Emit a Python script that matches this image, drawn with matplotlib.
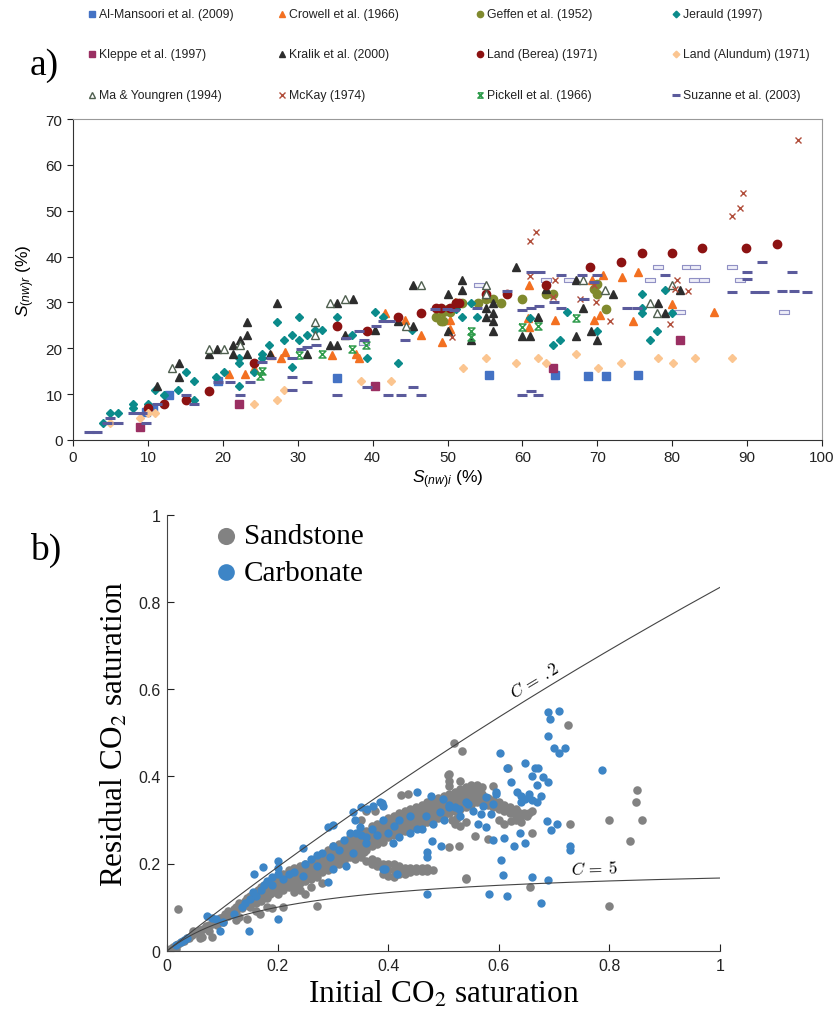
import numpy as np
import matplotlib.pyplot as plt
from matplotlib.path import Path

plt.rcParams['font.family'] = ['Liberation Sans', 'DejaVu Sans']
plt.rcParams['mathtext.fontset'] = 'custom'
plt.rcParams['mathtext.it'] = 'Liberation Sans:italic'
plt.rcParams['mathtext.rm'] = 'Liberation Sans'

# ---- (a) residual vs initial non-wetting saturation, literature data (%) ----
almansoori_x = [9.7, 10.7, 12.8, 19.4, 35.3, 55.6, 64.4, 68.8, 71.2, 75.4]
almansoori_y = [6.2, 6.8, 9.8, 12.8, 13.6, 14.1, 14.1, 13.9, 13.9, 14.1]

crowell_x = [20.8, 22.9, 24.2, 26.5, 27.8, 28.3, 34.6, 37.8, 38.2, 41.6, 44.3, 46.5, 49.3, 50.4,
             50.4, 51.0, 60.8, 60.9, 60.9, 64.4, 69.3, 69.6, 70.4, 70.7, 73.3, 74.7, 75.4, 80.0, 85.6]
crowell_y = [14.5, 14.3, 15.6, 18.6, 17.8, 19.2, 18.5, 18.8, 17.9, 27.8, 26.1, 23.0, 21.4, 26.1,
             24.3, 30.2, 26.6, 24.6, 33.7, 26.1, 34.8, 26.1, 27.2, 36.0, 35.5, 25.9, 36.7, 29.7, 28.0]

geffen_x = [48.5, 49.1, 49.4, 49.4, 50.1, 50.4, 51.1, 52.0, 54.1, 55.1, 56.1, 57.1, 60.0, 63.1,
            64.1, 69.6, 70.0, 70.0, 71.1]
geffen_y = [26.8, 25.9, 27.9, 25.9, 28.6, 27.9, 29.9, 29.9, 29.9, 30.8, 30.8, 29.9, 30.7, 31.9,
            31.8, 33.0, 34.1, 31.9, 28.6]

jerauld_x = [4.0, 5.0, 6.0, 8.0, 8.0, 10.0, 11.0, 12.1, 14.0, 15.1, 16.1, 16.1, 19.1, 20.1, 22.2,
             22.2, 22.2, 24.2, 25.2, 25.2, 26.2, 27.2, 28.2, 29.2, 29.2, 30.2, 30.2, 31.3, 32.3,
             33.3, 35.3, 39.3, 40.3, 41.4, 43.4, 45.3, 51.1, 52.0, 53.1, 54.0, 61.0, 64.1, 65.0,
             66.0, 70.0, 76.0, 76.0, 76.0, 77.0, 78.0, 79.0, 80.0, 37.3]
jerauld_y = [3.8, 5.8, 5.8, 7.8, 6.9, 7.8, 10.9, 9.9, 10.9, 14.9, 12.8, 8.7, 13.8, 14.9, 11.8,
             17.9, 16.9, 14.9, 18.8, 17.8, 20.8, 25.7, 21.9, 22.8, 15.9, 26.8, 21.9, 22.8, 23.9,
             23.9, 26.8, 17.9, 27.9, 26.8, 16.8, 23.9, 28.6, 26.8, 29.9, 26.8, 26.6, 20.8, 21.9,
             27.9, 23.7, 31.9, 28.8, 27.8, 21.9, 23.7, 32.8, 27.8, 22.8]

kleppe_x = [9.0, 22.2, 40.3, 64.1, 81.0]
kleppe_y = [2.9, 7.8, 11.8, 15.8, 21.9]

kralik_x = [11.2, 14.1, 14.1, 18.2, 19.2, 21.3, 21.3, 22.3, 23.2, 23.2, 23.2, 26.3, 27.3, 31.3,
            34.3, 35.3, 35.3, 36.3, 37.4, 40.3, 43.4, 45.4, 45.4, 50.0, 50.0, 52.0, 52.0, 53.1,
            55.1, 55.1, 56.1, 56.1, 56.1, 56.1, 59.1, 60.0, 61.0, 62.1, 63.1, 67.1, 67.1, 68.1,
            69.1, 70.0, 72.1, 78.1, 79.0, 81.0]
kralik_y = [11.7, 16.7, 13.8, 18.8, 19.9, 20.8, 18.8, 21.7, 25.7, 22.8, 18.8, 18.8, 29.9, 18.8,
            20.8, 20.8, 29.9, 22.8, 30.8, 23.9, 25.9, 24.9, 33.8, 31.9, 23.7, 34.8, 32.8, 21.7,
            28.8, 26.8, 29.9, 27.8, 25.9, 23.7, 37.7, 22.7, 22.7, 26.8, 33.0, 34.8, 22.7, 28.8,
            23.7, 21.7, 31.9, 29.9, 27.8, 32.8]

berea_x = [10.0, 12.1, 15.1, 18.2, 24.2, 35.3, 39.3, 43.4, 46.4, 48.5, 49.1, 50.4, 51.1, 51.5,
           55.1, 58.0, 63.1, 69.0, 73.1, 76.0, 80.0, 84.0, 89.9, 94.0]
berea_y = [7.0, 7.8, 8.7, 10.7, 16.7, 24.9, 23.7, 26.8, 27.8, 28.8, 28.8, 28.8, 29.9, 29.9,
           31.9, 31.9, 33.7, 37.7, 38.8, 40.8, 40.8, 41.8, 41.8, 42.8]

alundum_x = [5.0, 9.0, 10.0, 11.0, 24.2, 27.2, 28.2, 38.4, 42.4, 52.1, 55.1, 59.1, 62.1, 63.1,
             67.1, 70.1, 73.1, 78.1, 80.1, 83.1, 88.0]
alundum_y = [3.8, 4.7, 5.8, 5.8, 7.8, 8.7, 10.9, 12.8, 12.8, 15.8, 17.9, 16.8, 17.9, 16.8,
             18.8, 15.8, 16.8, 17.9, 16.8, 17.9, 17.9]

ma_x = [13.2, 18.2, 20.2, 22.3, 32.3, 32.3, 34.3, 36.3, 44.4, 46.4, 55.1, 55.1, 68.1, 71.0,
        77.0, 78.0, 80.0]
ma_y = [15.7, 19.9, 19.9, 20.8, 25.7, 22.8, 29.9, 30.8, 24.9, 33.8, 33.7, 31.9, 34.8, 32.8,
        29.9, 27.8, 33.7]

mckay_x = [50.6, 61.0, 61.0, 61.8, 64.1, 64.4, 67.7, 69.6, 69.8, 71.7, 79.7, 80.4, 80.7, 82.1,
           88.0, 89.1, 89.5, 96.8]
mckay_y = [22.5, 35.7, 43.3, 45.4, 31.2, 34.8, 30.7, 33.7, 30.1, 25.9, 25.2, 33.0, 34.8, 32.4,
           48.9, 50.6, 53.8, 65.4]

pickell_x = [25.0, 25.2, 30.2, 33.2, 37.2, 39.1, 53.1, 53.1, 60.0, 62.1, 67.1]
pickell_y = [13.9, 15.0, 18.5, 18.8, 19.8, 20.8, 23.7, 22.5, 24.6, 24.8, 26.7]

suzanne_x = [2.2, 3.2, 4.5, 6.0, 5.0, 8.0, 9.2, 9.8, 11.2, 15.1, 16.2, 19.3, 21.0, 22.3, 23.6,
             25.2, 26.5, 29.2, 29.2, 29.2, 30.4, 31.2, 32.4, 31.2, 35.3, 36.4, 38.2, 38.9, 39.3,
             40.5, 41.4, 42.3, 42.0, 43.8, 44.3, 45.4, 46.5, 48.3, 49.9, 50.9, 54.0, 58.0, 60.0,
             61.1, 62.2, 61.1, 62.4, 64.2, 65.1, 65.1, 68.0, 69.6, 68.2, 70.0, 74.0, 75.3, 60.0,
             61.1, 62.1, 79.1, 88.0, 90.0, 90.0, 91.0, 92.2, 92.0, 94.7, 96.2, 96.0, 98.0]
suzanne_y = [1.8, 1.8, 3.8, 3.8, 4.7, 5.8, 5.8, 3.8, 7.8, 9.8, 7.8, 12.7, 12.7, 9.9, 12.7,
             17.0, 17.8, 17.8, 13.8, 10.9, 19.9, 20.3, 20.8, 12.7, 9.8, 22.2, 23.7, 21.9, 11.6,
             24.9, 25.9, 25.9, 9.8, 9.8, 21.7, 11.6, 9.8, 28.6, 28.6, 28.3, 28.8, 32.6, 28.3,
             28.8, 29.2, 36.7, 36.7, 30.1, 28.8, 35.9, 35.9, 34.4, 30.7, 35.9, 28.8, 28.8, 9.9,
             10.7, 9.8, 35.9, 32.2, 36.7, 35.1, 32.2, 32.2, 38.8, 32.6, 32.6, 36.7, 32.2]
# Suzanne points drawn as open bars
suzanne_open_x = [10.5, 38.9, 54.2, 63.1, 66.2, 77.1, 78.1, 80.4, 81.1, 82.0, 83.1, 82.9, 84.2,
                  88.0, 89.1, 94.9]
suzanne_open_y = [6.9, 21.2, 33.7, 34.8, 34.8, 34.8, 37.7, 27.9, 27.9, 37.7, 37.7, 34.8, 34.8,
                  37.7, 34.8, 27.9]

# ---- (b) residual vs initial CO2 saturation ----
sandstone = [
    (0.005, 0.004), (0.01, 0.008), (0.015, 0.012), (0.02, 0.016), (0.025, 0.02), (0.03, 0.022),
    (0.035, 0.028), (0.04, 0.03), (0.045, 0.036), (0.05, 0.04), (0.055, 0.044), (0.06, 0.048),
    (0.065, 0.05), (0.07, 0.056), (0.075, 0.06), (0.08, 0.062), (0.085, 0.068), (0.09, 0.07),
    (0.095, 0.074), (0.1, 0.078), (0.062, 0.031), (0.08, 0.031), (0.06, 0.038), (0.075, 0.045),
    (0.09, 0.058), (0.1, 0.065), (0.02, 0.095), (0.015, 0.004), (0.047, 0.046),
    (0.105, 0.085), (0.11, 0.08), (0.11, 0.09), (0.115, 0.088), (0.12, 0.095), (0.12, 0.085),
    (0.125, 0.1), (0.125, 0.09), (0.13, 0.1), (0.13, 0.11), (0.135, 0.098), (0.135, 0.108),
    (0.14, 0.105), (0.14, 0.115), (0.145, 0.11), (0.145, 0.12), (0.15, 0.1), (0.15, 0.112),
    (0.15, 0.125), (0.155, 0.118), (0.155, 0.13), (0.16, 0.11), (0.16, 0.122), (0.16, 0.135),
    (0.165, 0.125), (0.165, 0.14), (0.17, 0.115), (0.17, 0.13), (0.17, 0.145), (0.175, 0.135),
    (0.175, 0.15), (0.18, 0.12), (0.18, 0.138), (0.18, 0.155), (0.185, 0.13), (0.185, 0.145),
    (0.19, 0.14), (0.19, 0.155), (0.19, 0.165), (0.195, 0.135), (0.195, 0.15), (0.2, 0.13),
    (0.2, 0.145), (0.2, 0.16), (0.2, 0.172), (0.144, 0.072), (0.168, 0.084), (0.189, 0.097),
    (0.13, 0.078), (0.16, 0.09), (0.18, 0.1), (0.125, 0.07),
    (0.205, 0.155), (0.205, 0.168), (0.21, 0.14), (0.21, 0.15), (0.21, 0.162), (0.21, 0.175),
    (0.215, 0.148), (0.215, 0.16), (0.215, 0.17), (0.22, 0.145), (0.22, 0.158), (0.22, 0.172),
    (0.22, 0.185), (0.225, 0.155), (0.225, 0.168), (0.23, 0.15), (0.23, 0.162), (0.23, 0.175),
    (0.23, 0.19), (0.235, 0.16), (0.235, 0.172), (0.24, 0.155), (0.24, 0.168), (0.24, 0.18),
    (0.24, 0.195), (0.245, 0.165), (0.245, 0.178), (0.25, 0.16), (0.25, 0.172), (0.25, 0.185),
    (0.25, 0.2), (0.255, 0.175), (0.255, 0.19), (0.26, 0.165), (0.26, 0.18), (0.26, 0.195),
    (0.265, 0.185), (0.265, 0.2), (0.27, 0.17), (0.27, 0.185), (0.27, 0.2), (0.27, 0.215),
    (0.275, 0.19), (0.275, 0.205), (0.28, 0.18), (0.28, 0.195), (0.28, 0.21), (0.285, 0.2),
    (0.285, 0.215), (0.29, 0.185), (0.29, 0.2), (0.29, 0.215), (0.29, 0.23), (0.295, 0.21),
    (0.295, 0.225), (0.3, 0.195), (0.3, 0.21), (0.3, 0.225), (0.3, 0.24), (0.21, 0.1),
    (0.249, 0.129), (0.271, 0.102), (0.24, 0.14), (0.26, 0.145), (0.28, 0.155), (0.23, 0.135),
    (0.305, 0.215), (0.305, 0.23), (0.31, 0.2), (0.31, 0.215), (0.31, 0.23), (0.31, 0.245),
    (0.315, 0.22), (0.315, 0.235), (0.32, 0.205), (0.32, 0.22), (0.32, 0.235), (0.32, 0.25),
    (0.325, 0.225), (0.325, 0.24), (0.33, 0.215), (0.33, 0.23), (0.33, 0.245), (0.33, 0.26),
    (0.335, 0.235), (0.335, 0.25), (0.34, 0.22), (0.34, 0.235), (0.34, 0.25), (0.34, 0.265),
    (0.345, 0.24), (0.345, 0.255), (0.35, 0.225), (0.35, 0.24), (0.35, 0.255), (0.35, 0.27),
    (0.355, 0.245), (0.355, 0.26), (0.36, 0.23), (0.36, 0.245), (0.36, 0.26), (0.36, 0.275),
    (0.365, 0.25), (0.365, 0.265), (0.37, 0.24), (0.37, 0.255), (0.37, 0.27), (0.37, 0.285),
    (0.375, 0.26), (0.375, 0.275), (0.38, 0.245), (0.38, 0.26), (0.38, 0.275), (0.38, 0.29),
    (0.385, 0.265), (0.385, 0.28), (0.39, 0.25), (0.39, 0.265), (0.39, 0.28), (0.39, 0.295),
    (0.395, 0.27), (0.395, 0.285), (0.4, 0.26), (0.4, 0.275), (0.4, 0.29), (0.4, 0.305),
    (0.36, 0.32), (0.375, 0.32), (0.35, 0.3),
    (0.34, 0.21), (0.35, 0.215), (0.355, 0.226), (0.36, 0.205), (0.37, 0.2), (0.38, 0.195),
    (0.39, 0.19), (0.4, 0.185), (0.41, 0.185), (0.42, 0.18), (0.43, 0.18), (0.44, 0.18),
    (0.45, 0.182), (0.46, 0.183), (0.47, 0.183), (0.48, 0.185), (0.39, 0.2), (0.4, 0.2),
    (0.41, 0.198), (0.42, 0.195), (0.43, 0.19), (0.44, 0.19), (0.38, 0.205), (0.37, 0.21),
    (0.39, 0.175), (0.4, 0.172), (0.41, 0.17), (0.42, 0.175), (0.43, 0.175), (0.45, 0.19),
    (0.46, 0.19), (0.47, 0.19),
    (0.405, 0.28), (0.405, 0.295), (0.41, 0.265), (0.41, 0.28), (0.41, 0.295), (0.41, 0.31),
    (0.415, 0.285), (0.415, 0.3), (0.42, 0.27), (0.42, 0.285), (0.42, 0.3), (0.42, 0.315),
    (0.425, 0.29), (0.425, 0.305), (0.43, 0.275), (0.43, 0.29), (0.43, 0.305), (0.43, 0.32),
    (0.435, 0.295), (0.435, 0.31), (0.44, 0.28), (0.44, 0.295), (0.44, 0.31), (0.44, 0.325),
    (0.445, 0.3), (0.445, 0.315), (0.45, 0.285), (0.45, 0.3), (0.45, 0.315), (0.45, 0.33),
    (0.455, 0.305), (0.455, 0.32), (0.46, 0.29), (0.46, 0.305), (0.46, 0.32), (0.46, 0.335),
    (0.465, 0.31), (0.465, 0.325), (0.47, 0.295), (0.47, 0.31), (0.47, 0.325), (0.47, 0.34),
    (0.475, 0.315), (0.475, 0.33), (0.48, 0.3), (0.48, 0.315), (0.48, 0.33), (0.48, 0.345),
    (0.485, 0.32), (0.485, 0.335), (0.49, 0.305), (0.49, 0.32), (0.49, 0.335), (0.49, 0.35),
    (0.495, 0.325), (0.495, 0.34), (0.5, 0.31), (0.5, 0.325), (0.5, 0.34), (0.5, 0.355),
    (0.423, 0.357), (0.435, 0.359),
    (0.505, 0.33), (0.505, 0.345), (0.51, 0.315), (0.51, 0.33), (0.51, 0.345), (0.51, 0.36),
    (0.51, 0.378), (0.51, 0.39), (0.51, 0.405), (0.515, 0.335), (0.515, 0.35), (0.52, 0.32),
    (0.52, 0.335), (0.52, 0.35), (0.52, 0.365), (0.525, 0.34), (0.525, 0.355), (0.53, 0.325),
    (0.53, 0.34), (0.53, 0.355), (0.53, 0.37), (0.535, 0.345), (0.535, 0.36), (0.54, 0.33),
    (0.54, 0.345), (0.54, 0.36), (0.54, 0.375), (0.545, 0.35), (0.545, 0.365), (0.55, 0.335),
    (0.55, 0.35), (0.55, 0.365), (0.55, 0.38), (0.555, 0.355), (0.555, 0.37), (0.56, 0.34),
    (0.56, 0.355), (0.56, 0.37), (0.56, 0.38), (0.565, 0.36), (0.57, 0.345), (0.57, 0.36),
    (0.57, 0.375), (0.575, 0.35), (0.58, 0.335), (0.58, 0.35), (0.585, 0.34), (0.59, 0.33),
    (0.59, 0.345), (0.595, 0.335), (0.6, 0.325), (0.6, 0.34), (0.605, 0.33), (0.61, 0.32),
    (0.61, 0.335), (0.615, 0.325), (0.62, 0.315), (0.62, 0.33), (0.625, 0.32), (0.63, 0.31),
    (0.63, 0.325), (0.635, 0.318), (0.64, 0.31), (0.645, 0.315), (0.65, 0.31), (0.655, 0.315),
    (0.66, 0.32), (0.515, 0.3), (0.52, 0.29), (0.53, 0.285), (0.54, 0.295), (0.525, 0.305),
    (0.51, 0.237), (0.528, 0.241), (0.6, 0.3), (0.61, 0.29), (0.63, 0.3), (0.64, 0.295),
    (0.529, 0.39), (0.59, 0.377), (0.617, 0.42), (0.725, 0.518), (0.85, 0.369), (0.848, 0.34),
    (0.799, 0.3), (0.859, 0.3), (0.838, 0.252), (0.729, 0.291), (0.659, 0.271), (0.58, 0.256),
    (0.556, 0.264), (0.541, 0.167), (0.656, 0.147), (0.799, 0.103), (0.622, 0.298),
    (0.519, 0.476), (0.533, 0.457), (0.507, 0.403), (0.54, 0.164), (0.059, 0.03),
]

carbonate = [
    (0.015, 0.012), (0.025, 0.02), (0.03, 0.024), (0.035, 0.028), (0.071, 0.08), (0.08, 0.076),
    (0.089, 0.073), (0.095, 0.046), (0.1, 0.065), (0.12, 0.085), (0.135, 0.1), (0.14, 0.11),
    (0.147, 0.046), (0.15, 0.118), (0.16, 0.125), (0.155, 0.135), (0.17, 0.14), (0.175, 0.15),
    (0.18, 0.16), (0.19, 0.17), (0.2, 0.175), (0.2, 0.19), (0.2, 0.205), (0.174, 0.193),
    (0.156, 0.176), (0.201, 0.072), (0.19, 0.15), (0.21, 0.165), (0.22, 0.175), (0.23, 0.18),
    (0.25, 0.2), (0.246, 0.235), (0.26, 0.21), (0.27, 0.22), (0.28, 0.225), (0.291, 0.283),
    (0.3, 0.288), (0.291, 0.157), (0.3, 0.24), (0.31, 0.23), (0.32, 0.255), (0.336, 0.317),
    (0.34, 0.3), (0.33, 0.27), (0.35, 0.265), (0.36, 0.26), (0.37, 0.28), (0.38, 0.265),
    (0.39, 0.3), (0.4, 0.27), (0.41, 0.285), (0.373, 0.333), (0.388, 0.339), (0.42, 0.3),
    (0.44, 0.31), (0.451, 0.363), (0.478, 0.355), (0.493, 0.317), (0.509, 0.33), (0.469, 0.226),
    (0.469, 0.215), (0.496, 0.239), (0.479, 0.252), (0.415, 0.176), (0.391, 0.187),
    (0.469, 0.131), (0.46, 0.28), (0.48, 0.29), (0.5, 0.3), (0.52, 0.33), (0.54, 0.34),
    (0.53, 0.31), (0.544, 0.336), (0.553, 0.321), (0.568, 0.313), (0.586, 0.313), (0.563, 0.291),
    (0.577, 0.283), (0.571, 0.333), (0.589, 0.336), (0.577, 0.352), (0.595, 0.359),
    (0.632, 0.363), (0.64, 0.355), (0.648, 0.348), (0.655, 0.36), (0.66, 0.345), (0.668, 0.34),
    (0.64, 0.34), (0.677, 0.355), (0.621, 0.386), (0.614, 0.418), (0.669, 0.38), (0.659, 0.4),
    (0.679, 0.398), (0.689, 0.386), (0.665, 0.418), (0.671, 0.418), (0.647, 0.43),
    (0.602, 0.453), (0.787, 0.415), (0.689, 0.547), (0.692, 0.531), (0.709, 0.55),
    (0.689, 0.492), (0.699, 0.464), (0.709, 0.453), (0.72, 0.466), (0.687, 0.298),
    (0.705, 0.291), (0.695, 0.277), (0.639, 0.271), (0.628, 0.241), (0.647, 0.247),
    (0.61, 0.258), (0.589, 0.255), (0.729, 0.241), (0.729, 0.232), (0.603, 0.209),
    (0.608, 0.174), (0.659, 0.17), (0.688, 0.163), (0.582, 0.13), (0.615, 0.126), (0.677, 0.109),
    (0.245, 0.172), (0.27, 0.195), (0.294, 0.214), (0.3, 0.187), (0.324, 0.195), (0.336, 0.225),
    (0.36, 0.248), (0.342, 0.271), (0.348, 0.283), (0.384, 0.34), (0.39, 0.333), (0.393, 0.187),
    (0.408, 0.248), (0.42, 0.26), (0.44, 0.27), (0.452, 0.28), (0.468, 0.31), (0.498, 0.348),
    (0.51, 0.335), (0.528, 0.325), (0.594, 0.363), (0.35, 0.33), (0.362, 0.325),
]

land_c = [0.2, 5]

fig = plt.figure(figsize=(8.38, 10.12), dpi=100)
W, H = 838, 1012

# ---------------- panel (a) ----------------
ax = fig.add_axes([73 / W, 1 - 441 / H, (822 - 73) / W, (441 - 120) / H])

hourglass = Path([(-1, 1), (1, 1), (-1, -1), (1, -1), (-1, 1)],
                 [Path.MOVETO, Path.LINETO, Path.LINETO, Path.LINETO, Path.LINETO])
open_bar = Path([(-1, -0.4), (1, -0.4), (1, 0.4), (-1, 0.4), (-1, -0.4)],
                [Path.MOVETO, Path.LINETO, Path.LINETO, Path.LINETO, Path.CLOSEPOLY])

series = [
    ('Al-Mansoori et al. (2009)', almansoori_x, almansoori_y,
     dict(marker='s', ms=5.5, color='#4472C4')),
    ('Crowell et al. (1966)', crowell_x, crowell_y,
     dict(marker='^', ms=6, color='#F37021')),
    ('Geffen et al. (1952)', geffen_x, geffen_y,
     dict(marker='o', ms=6, color='#808A2E')),
    ('Jerauld (1997)', jerauld_x, jerauld_y,
     dict(marker='D', ms=4.5, color='#0B8B8B')),
    ('Kleppe et al. (1997)', kleppe_x, kleppe_y,
     dict(marker='s', ms=5.5, color='#9A2F62')),
    ('Kralik et al. (2000)', kralik_x, kralik_y,
     dict(marker='^', ms=6, color='#2D2D2D')),
    ('Land (Berea) (1971)', berea_x, berea_y,
     dict(marker='o', ms=6, color='#8C1212')),
    ('Land (Alundum) (1971)', alundum_x, alundum_y,
     dict(marker='D', ms=4.5, color='#FBC590')),
    ('Ma & Youngren (1994)', ma_x, ma_y,
     dict(marker='^', ms=6, mfc='white', mec='#4F5F4F', mew=1.0)),
    ('McKay (1974)', mckay_x, mckay_y,
     dict(marker='x', ms=5, color='#B14E3B', mew=1.0)),
    ('Pickell et al. (1966)', pickell_x, pickell_y,
     dict(marker=hourglass, ms=5, mfc='none', mec='#2E9B4B', mew=1.1)),
    ('Suzanne et al. (2003)', suzanne_x, suzanne_y,
     dict(marker='_', ms=7, color='#5B5B9C', mew=2.2)),
]

ax.plot(suzanne_open_x, suzanne_open_y, ls='none', marker=open_bar, ms=7,
        mfc='#EEEEF8', mec='#9090C4', mew=0.8, zorder=2)
for label, xs, ys, style in series:
    ax.plot(xs, ys, ls='none', zorder=3, **style)

ax.set_xlim(0, 100)
ax.set_ylim(0, 70)
ax.set_xticks(np.arange(0, 101, 10))
ax.set_yticks(np.arange(0, 71, 10))
ax.tick_params(direction='out', length=4, width=0.8, labelsize=11, colors='#222222')
for side in ('left', 'bottom'):
    ax.spines[side].set_color('#333333')
for side in ('top', 'right'):
    ax.spines[side].set_color('#999999')
ax.set_xlabel(r'$S_{(nw)i}$ (%)', fontsize=12.5, labelpad=2)
ax.set_ylabel(r'$S_{(nw)r}$ (%)', fontsize=12.5, labelpad=6)

# legend laid out as a 3 x 4 grid above the axes
leg = fig.add_axes([0, 0, 1, 1], zorder=-1)
leg.set_xlim(0, W)
leg.set_ylim(H, 0)
leg.set_axis_off()
col_x = [92, 282, 480, 676]
row_y = [15, 55, 96]
for i, (label, xs, ys, style) in enumerate(series):
    r, c = divmod(i, 4)
    small = dict(style)
    small['ms'] = style['ms'] * 0.75
    leg.plot([col_x[c]], [row_y[r]], ls='none', **small)
    leg.text(col_x[c] + 7, row_y[r], label, fontsize=8.8, va='center', ha='left',
             color='#222222')

fig.text(30 / W, 1 - 66 / H, 'a)', fontsize=27, family='Liberation Serif', va='center')

# ---------------- panel (b) ----------------
bx = fig.add_axes([167.3 / W, 1 - 951.7 / H, (720 - 167.3) / W, (951.7 - 515.7) / H])
sx, sy = np.array(sandstone).T
cx, cy = np.array(carbonate).T
bx.scatter(sx, sy, s=38, color='#828282', linewidths=0, zorder=2, label='Sandstone')
bx.scatter(cx, cy, s=36, color='#3D85C6', linewidths=0, zorder=3, label='Carbonate')

si = np.linspace(0, 1, 300)
for c in land_c:
    bx.plot(si, si / (1 + c * si), color='#444444', lw=0.8, zorder=4)
bx.text(0.665, 0.622, r'$C\,=\,.2$', fontsize=12.5, math_fontfamily='cm',
        rotation=31, ha='center', va='center')
bx.text(0.773, 0.19, r'$C\,=\,5$', fontsize=12.5, math_fontfamily='cm',
        rotation=2, ha='center', va='center')

bx.set_xlim(0, 1)
bx.set_ylim(0, 1)
bx.set_xticks([0, 0.2, 0.4, 0.6, 0.8, 1])
bx.set_xticklabels(['0', '0.2', '0.4', '0.6', '0.8', '1'])
bx.set_yticks([0, 0.2, 0.4, 0.6, 0.8, 1])
bx.set_yticklabels(['0', '0.2', '0.4', '0.6', '0.8', '1'])
bx.spines['top'].set_visible(False)
bx.spines['right'].set_visible(False)
for side in ('left', 'bottom'):
    bx.spines[side].set_color('#444444')
    bx.spines[side].set_linewidth(0.8)
bx.tick_params(direction='in', length=5, width=0.8, labelsize=11.5, colors='#222222', pad=5)
bx.set_xlabel('Initial CO$_2$ saturation', fontsize=22.5, family='Liberation Serif',
              math_fontfamily='stix', labelpad=4)
bx.set_ylabel('Residual CO$_2$ saturation', fontsize=22.5, family='Liberation Serif',
              math_fontfamily='stix', labelpad=6)
bx.legend(loc='upper left', bbox_to_anchor=(0.064, 1.008), frameon=False,
          prop={'family': 'Liberation Serif', 'size': 21}, markerscale=2.0,
          handlelength=0.8, handletextpad=0.2, labelspacing=0.35, borderaxespad=0)

fig.text(30 / W, 1 - 550 / H, 'b)', fontsize=27, family='Liberation Serif', va='center')

fig.savefig('out.png', dpi=100)
